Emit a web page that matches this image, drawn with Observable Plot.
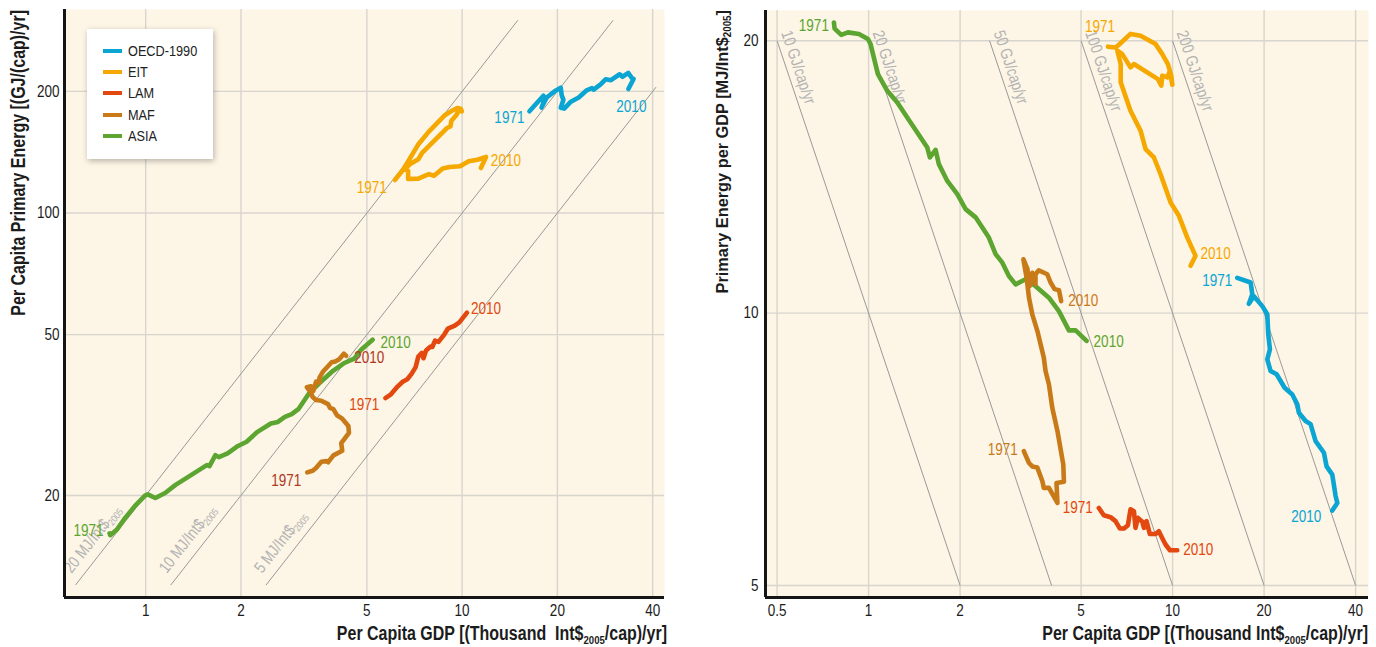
<!DOCTYPE html>
<html><head><meta charset="utf-8">
<script src="https://cdn.jsdelivr.net/npm/d3@7"></script>
<script src="https://cdn.jsdelivr.net/npm/@observablehq/plot@0.6"></script>
<style>
  html,body{margin:0;padding:0;background:#fff;}
  #wrap{position:relative;width:1376px;height:647px;display:flex;overflow:hidden;
        font-family:"Liberation Sans",Arial,sans-serif;}
  #wrap svg{display:block;flex:none;}
  .legend{position:absolute;left:87px;top:29px;width:126px;height:130px;background:#fff;
          box-shadow:1px 2px 6px rgba(0,0,0,0.28);}
  .legend .item{position:absolute;left:0;width:126px;height:20px;font-size:15.5px;color:#222;}
  .legend .sw{position:absolute;left:16px;top:8px;width:19px;height:4px;}
  .legend .lab{position:absolute;left:41px;top:0;white-space:nowrap;line-height:20px;
          transform:scaleX(0.82);transform-origin:0 50%;}
</style></head>
<body><div id="wrap"></div>
<script>
// ---------- data ----------
const regions = ["OECD-1990", "EIT", "LAM", "MAF", "ASIA"];
const regionColors = ["#0aa5d3", "#f5a800", "#e2480f", "#c97a18", "#5ba530"];
const startYear = 1971, endYear = 2010;

// per capita GDP [thousand Int$2005/cap/yr] and energy intensity [MJ/Int$2005], path 1971 -> 2010
const oecdGdp = [16.32,18.06,18.29,17.82,18.51,19.73,20.49,20.64,20.90,20.49,21.01,21.99,23.36,24.76,25.72,26.03,27.39,28.44,29.54,31.46,32.11,33.52,34.37,34.82,33.52];
const oecdIntensity = [10.94,10.81,10.49,10.24,10.44,10.18,9.97,9.475,9.12,8.89,8.63,8.56,8.27,8.13,7.93,7.76,7.60,7.54,7.22,7.01,6.77,6.63,6.28,6.17,6.05];

const eitGdp = [6.13,6.49,6.66,7.27,7.85,8.79,9.25,9.65,9.90,9.98,9.80,9.61,9.25,9.18,8.95,7.46,7.27,6.83,6.58,6.75,6.75,7.27,7.85,8.15,8.68,9.13,9.85,10.49,11.18,11.90,11.46];
const eitIntensity = [19.70,19.66,19.80,20.35,20.26,19.83,19.33,18.85,18.30,17.88,18.53,18.22,18.30,17.84,18.14,18.85,18.69,19.33,19.50,18.85,17.99,16.74,15.90,15.18,14.86,14.24,13.25,12.81,12.12,11.57,11.28];

const lamGdp = [5.72,5.94,6.25,6.49,6.71,6.92,7.13,7.27,7.46,7.55,7.69,7.95,8.05,8.21,8.36,8.42,8.79,9.01,9.25,9.48,9.80,10.36];
const lamIntensity = [6.09,5.98,5.95,5.89,5.78,5.78,5.83,6.07,6.04,5.79,5.94,5.88,5.79,5.89,5.75,5.70,5.70,5.74,5.64,5.55,5.47,5.47];

const mafGdp = [3.24,3.37,3.455,3.59,3.73,3.77,3.92,4.18,4.15,4.39,4.37,4.18,4.02,3.92,3.82,3.77,3.59,3.455,3.37,3.31,3.23,3.33,3.385,3.455,3.54,3.54,3.63,3.87,3.97,4.09,4.23,4.30];
const mafIntensity = [7.04,6.83,6.77,6.75,6.52,6.41,6.41,6.17,6.49,6.51,6.80,7.41,7.86,8.34,8.63,8.93,9.56,9.97,10.40,10.94,11.47,11.19,10.71,11.08,10.76,11.04,11.15,11.04,10.81,10.63,10.60,10.31];

const asiaGdp = [0.769,0.773,0.813,0.855,0.929,0.995,1.015,1.073,1.152,1.243,1.340,1.560,1.591,1.661,1.703,1.815,1.958,2.085,2.249,2.487,2.617,2.754,2.894,3.045,3.284,3.543,3.918,4.227,4.559,4.797,5.213];
const asiaIntensity = [20.95,20.63,20.30,20.43,20.35,20.09,19.83,18.37,17.61,17.09,16.45,15.24,14.86,15.15,14.61,14.00,13.54,13.03,12.76,12.12,11.62,11.37,10.99,10.76,10.90,10.71,10.40,10.05,9.57,9.57,9.32];

// axes ticks
const leftXTicks = [1, 2, 5, 10, 20, 40];
const leftYTicks = [20, 50, 100, 200];
const rightXTicks = [0.5, 1, 2, 5, 10, 20, 40];
const rightYTicks = [5, 10, 20];

// iso lines
const isoIntensities = [20, 10, 5];          // MJ/Int$2005 (left panel)
const isoEnergyRange = [12, 300];            // GJ/cap/yr span of those lines
const isoGdpMax = 41;
const isoEnergies = [10, 20, 50, 100, 200];  // GJ/cap/yr (right panel)
const isoIntensityRange = [20, 5];           // MJ/Int$2005 span of those lines

// ---------- derived tables ----------
const series = [
  [regions[0], oecdGdp, oecdIntensity],
  [regions[1], eitGdp, eitIntensity],
  [regions[2], lamGdp, lamIntensity],
  [regions[4], asiaGdp, asiaIntensity],
  [regions[3], mafGdp, mafIntensity]
];
const rows = series.flatMap(([region, g, e]) =>
  g.map((v, i) => ({region, gdp: v, intensity: e[i], energy: v * e[i]})));
const first = r => rows.find(d => d.region === r);
const last = r => rows.filter(d => d.region === r).at(-1);

const isoLeft = isoIntensities.map(k => {
  const x2 = Math.min(isoEnergyRange[1] / k, isoGdpMax);
  return {k, x1: isoEnergyRange[0] / k, y1: isoEnergyRange[0], x2, y2: x2 * k,
          label: `${k} MJ/Int$|2005`};
});
const isoRight = isoEnergies.map(E => ({E, x1: E / isoIntensityRange[0], y1: isoIntensityRange[0],
  x2: E / isoIntensityRange[1], y2: isoIntensityRange[1], label: `${E} GJ/cap/yr`}));

// ---------- styling ----------
const FONT = '"Liberation Sans",Arial,sans-serif';
const NARROW = 0.82;
const BG = "#fdf5e5", GRID = "#d8d5cf", ISO = "#8e8e8e", ISOTXT = "#b3b3b3", INK = "#1c1c1c";
const color = {domain: regions, range: regionColors};
const leftLabelColor = r => r === "MAF" ? "#b0381f" : regionColors[regions.indexOf(r)];
const rightLabelColor = r => regionColors[regions.indexOf(r)];

const leftOffsets = {
  "OECD-1990": [[-5, 6, "end"], [3, 18, "middle"]],
  "EIT": [[-8, 8, "end"], [10, -7, "start"]],
  "LAM": [[-6, 7, "end"], [4, -4, "start"]],
  "MAF": [[-6, 8, "end"], [8, 2, "start"]],
  "ASIA": [[-6, -3, "end"], [8, 3, "start"]]
};
const rightOffsets = {
  "OECD-1990": [[-5, 3, "end"], [-11, 6, "end"]],
  "EIT": [[-8, -20, "middle"], [10, -12, "start"]],
  "LAM": [[-6, 0, "end"], [6, -1, "start"]],
  "MAF": [[-6, -1, "end"], [7, 0, "start"]],
  "ASIA": [[-5, 3, "end"], [7, 1, "start"]]
};

function yearLabels(yKey, offsets, colorFn) {
  return regions.flatMap(r => [[first(r), startYear, offsets[r][0]], [last(r), endYear, offsets[r][1]]]
    .map(([d, yr, [dx, dy, anchor]]) => Plot.text([d], {
      x: "gdp", y: yKey, text: () => String(yr), dx, dy, textAnchor: anchor,
      fill: colorFn(r), fontSize: 16.5
    })));
}

function frameMarks(xTicks, yTicks) {
  return [
    Plot.frame({fill: BG, stroke: null}),
    Plot.gridX(xTicks, {stroke: GRID, strokeOpacity: 1, strokeWidth: 1.4}),
    Plot.gridY(yTicks, {stroke: GRID, strokeOpacity: 1, strokeWidth: 1.4}),
  ];
}
function axisMarks(xTicks, yTicks, xDomain, yDomain, yPad) {
  return [
    Plot.ruleX([xDomain[0]], {y1: yDomain[0], y2: yDomain[1], stroke: "#151515", strokeWidth: 3}),
    Plot.ruleY([yDomain[0]], {x1: xDomain[0], x2: xDomain[1], stroke: "#151515", strokeWidth: 3}),
    Plot.text(xTicks, {x: d => d, frameAnchor: "bottom", dy: 18, text: d => String(d), fill: INK, fontSize: 16.5}),
    Plot.text(yTicks, {y: d => d, frameAnchor: "left", dx: -yPad, textAnchor: "end", text: d => String(d), fill: INK, fontSize: 16.5})
  ];
}

const W1 = 690, W2 = 686, H = 647;
const lxD = [0.554, 43.6], lyD = [11.18, 319];
const rxD = [0.458, 44.1], ryD = [4.85, 21.6];

const leftPlot = Plot.plot({
  width: W1, height: H, marginLeft: 64, marginRight: 26, marginTop: 9, marginBottom: 50,
  x: {type: "log", domain: lxD, axis: null}, y: {type: "log", domain: lyD, axis: null}, color,
  style: {fontFamily: FONT, fontSize: "15px", color: INK, background: "transparent", overflow: "visible"},
  marks: [
    ...frameMarks(leftXTicks, leftYTicks),
    Plot.link(isoLeft, {x1: "x1", y1: "y1", x2: "x2", y2: "y2", stroke: ISO, strokeWidth: 0.9}),
    Plot.text(isoLeft, {x: "x1", y: "y1", text: "label", rotate: -52, textAnchor: "start", lineAnchor: "bottom",
      dx: -4, dy: -11, fill: ISOTXT, fontSize: 16.5}),
    Plot.line(rows, {x: "gdp", y: "energy", z: "region", stroke: "region", strokeWidth: 4.6,
      strokeLinejoin: "round", strokeLinecap: "round"}),
    ...yearLabels("energy", leftOffsets, leftLabelColor),
    ...axisMarks(leftXTicks, leftYTicks, lxD, lyD, 5)
  ]
});

const rightPlot = Plot.plot({
  width: W2, height: H, marginLeft: 75, marginRight: 8, marginTop: 10, marginBottom: 50,
  x: {type: "log", domain: rxD, axis: null}, y: {type: "log", domain: ryD, axis: null}, color,
  style: {fontFamily: FONT, fontSize: "15px", color: INK, background: "transparent", overflow: "visible"},
  marks: [
    ...frameMarks(rightXTicks, rightYTicks),
    Plot.link(isoRight, {x1: "x1", y1: "y1", x2: "x2", y2: "y2", stroke: ISO, strokeWidth: 0.9}),
    Plot.text(isoRight, {x: "x1", y: "y1", text: "label", rotate: 71.4, textAnchor: "start", lineAnchor: "bottom",
      dx: 4, dy: -8, fill: ISOTXT, fontSize: 16.5}),
    Plot.line(rows, {x: "gdp", y: "intensity", z: "region", stroke: "region", strokeWidth: 4.6,
      strokeLinejoin: "round", strokeLinecap: "round"}),
    ...yearLabels("intensity", rightOffsets, rightLabelColor),
    ...axisMarks(rightXTicks, rightYTicks, rxD, ryD, 7)
  ]
});

// subscripts for iso labels written as "text|sub"
d3.select(leftPlot).selectAll("text").each(function () {
  if (!this.textContent.includes("|")) return;
  const [a, b] = this.textContent.split("|");
  const t = d3.select(this); t.text(null);
  t.append("tspan").text(a);
  t.append("tspan").attr("font-size", "0.6em").attr("dy", "0.3em").text(b);
});

// condensed look for every plot text (scale along the text direction)
for (const svg of [leftPlot, rightPlot]) {
  d3.select(svg).selectAll("text").each(function () {
    const tr = this.getAttribute("transform") || "";
    this.setAttribute("transform", `${tr} scale(${NARROW},1)`);
  });
}

function title(svg, {x, y, rotate = 0, parts, size, sx = NARROW}) {
  const t = d3.select(svg).append("text")
    .attr("transform", `translate(${x},${y}) rotate(${rotate}) scale(${sx},1)`)
    .attr("text-anchor", "end").attr("font-family", FONT).attr("font-weight", "bold")
    .attr("font-size", size).attr("fill", INK);
  let down = false;
  parts.forEach(([s, sub]) => {
    const ts = t.append("tspan").text(s);
    if (sub) { ts.attr("font-size", size * 0.6).attr("dy", size * 0.2); down = true; }
    else if (down) { ts.attr("dy", -size * 0.2); down = false; }
  });
}
title(leftPlot, {x: 667, y: 640, size: 19.5,
  parts: [["Per Capita GDP [(Thousand\u00a0\u00a0Int$"], ["2005", true], ["/cap)/yr]"]]});
title(leftPlot, {x: 25, y: 10, rotate: -90, size: 19.5,
  parts: [["Per Capita Primary Energy [(GJ/(cap)/yr]"]]});
title(rightPlot, {x: 678, y: 640, size: 19.5,
  parts: [["Per Capita GDP [(Thousand Int$"], ["2005", true], ["/cap)/yr]"]]});
title(rightPlot, {x: 38, y: 10, rotate: -90, size: 17, sx: 0.96,
  parts: [["Primary Energy per GDP [MJ/Int$"], ["2005", true], ["]"]]});

const wrap = document.getElementById("wrap");
wrap.appendChild(leftPlot);
wrap.appendChild(rightPlot);

// legend
const leg = document.createElement("div");
leg.className = "legend";
regions.forEach((r, i) => {
  const it = document.createElement("div");
  it.className = "item";
  it.style.top = (12 + i * 21.2) + "px";
  it.innerHTML = `<span class="sw" style="background:${regionColors[i]}"></span><span class="lab">${r}</span>`;
  leg.appendChild(it);
});
wrap.appendChild(leg);
</script>
</body></html>
